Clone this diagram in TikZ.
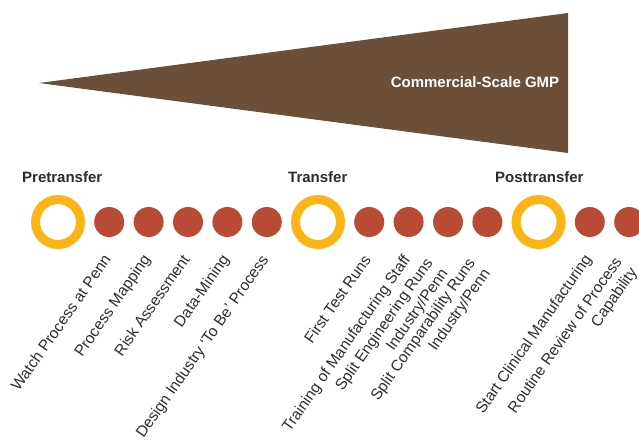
\documentclass[tikz,border=0pt]{standalone}
\usepackage{fontspec}
\setmainfont{Liberation Sans}
\usepackage{xcolor}
\usepackage{tikz}
\usetikzlibrary{positioning}

\definecolor{gmpbrown}{RGB}{107,79,57}
\definecolor{ringgold}{RGB}{253,180,23}
\definecolor{dotred}{RGB}{185,75,53}
\definecolor{textgray}{RGB}{45,45,45}

\begin{document}
\begin{tikzpicture}[x=1pt, y=1pt, node distance=9pt,
	ring/.style={circle,draw=ringgold,line width=9pt,minimum size=45pt,inner sep=0pt},
	dot/.style={circle,fill=dotred,minimum size=30pt,inner sep=0pt},
	phase/.style={font=\fontsize{15}{18}\selectfont\bfseries,text=textgray,anchor=base west,inner sep=0pt},
	task/.style={font=\fontsize{15.5}{18.5}\selectfont,text=textgray,rotate=55,anchor=north east,align=right,inner sep=0pt}]
	\useasboundingbox (0,0) rectangle (639,440);
	% wedge
	\fill[gmpbrown] (39,357) -- (568,427) -- (568,287) -- cycle;
	\node[font=\fontsize{15}{18}\selectfont\bfseries,text=white] (gmp) at (475,358) {Commercial-Scale GMP};
	% phases
	\node[phase] (pretitle) at (22,258) {Pretransfer};
	\node[phase] (trtitle) at (288,258) {Transfer};
	\node[phase] (posttitle) at (495,258) {Posttransfer};
	% milestones
	\node[ring] (pre) at (58,218) {};
	\node[dot, right=of pre] (p1) {};
	\node[dot, right=of p1] (p2) {};
	\node[dot, right=of p2] (p3) {};
	\node[dot, right=of p3] (p4) {};
	\node[dot, right=of p4] (p5) {};
	\node[ring, right=of p5] (tr) {};
	\node[dot, right=of tr] (t1) {};
	\node[dot, right=of t1] (t2) {};
	\node[dot, right=of t2] (t3) {};
	\node[dot, right=of t3] (t4) {};
	\node[ring, right=of t4] (post) {};
	\node[dot, right=of post] (q1) {};
	\node[dot, right=of q1] (q2) {};
	% tasks
	\node[task] (l1) at ([shift={(-7,-31)}]p1.center) {Watch Process at Penn};
	\node[task] (l2) at ([shift={(-7,-31)}]p2.center) {Process Mapping};
	\node[task] (l3) at ([shift={(-7,-31)}]p3.center) {Risk Assessment};
	\node[task] (l4) at ([shift={(-7,-31)}]p4.center) {Data-Mining};
	\node[task] (l5) at ([shift={(-7,-31)}]p5.center) {Design Industry `To Be' Process};
	\node[task] (l6) at ([shift={(-7,-31)}]t1.center) {First Test Runs};
	\node[task] (l7) at ([shift={(-7,-31)}]t2.center) {Training of Manufacturing Staff};
	\node[task] (l8) at ([shift={(-24,-34)}]t3.center) {Split Engineering Runs\\Industry/Penn};
	\node[task] (l9) at ([shift={(-21,-34)}]t4.center) {Split Comparability Runs\\Industry/Penn};
	\node[task] (l10) at ([shift={(-7,-31)}]q1.center) {Start Clinical Manufacturing};
	\node[task] (l11) at ([shift={(-16,-33)}]q2.center) {Routine Review of Process\\Capability};
\end{tikzpicture}
\end{document}
